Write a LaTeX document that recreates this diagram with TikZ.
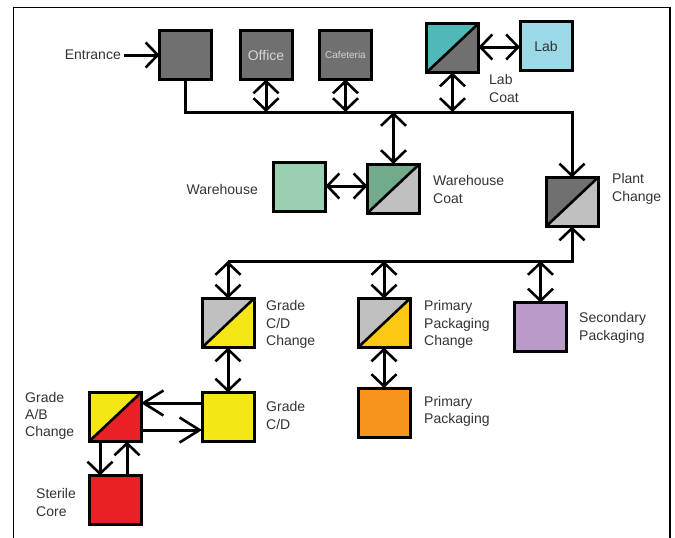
\documentclass[tikz,border=0pt]{standalone}
\usepackage{fontspec}
\setmainfont{Liberation Sans}
\usetikzlibrary{arrows.meta}
\definecolor{dgray}{HTML}{707070}
\definecolor{lgray}{HTML}{C0C0C0}
\definecolor{teal}{HTML}{4FB8B8}
\definecolor{labblue}{HTML}{9CD9E6}
\definecolor{whgreen}{HTML}{9ACFB2}
\definecolor{wcgreen}{HTML}{72AA8C}
\definecolor{gyellow}{HTML}{F5E616}
\definecolor{gold}{HTML}{FCC814}
\definecolor{porange}{HTML}{F7941E}
\definecolor{purple}{HTML}{B99AC9}
\definecolor{gred}{HTML}{EB2027}
\definecolor{txtlight}{HTML}{D4D4D4}
\tikzset{
  box/.style={draw=black, line width=3pt, minimum width=52pt, minimum height=49pt,
    inner sep=0pt, outer sep=0pt},
  splitbox/.style 2 args={box, path picture={
    \fill[#1] (path picture bounding box.south west) -- (path picture bounding box.north west)
      -- (path picture bounding box.north east) -- cycle;
    \fill[#2] (path picture bounding box.south west) -- (path picture bounding box.south east)
      -- (path picture bounding box.north east) -- cycle;
    \draw[line width=2.6pt] (path picture bounding box.south west) -- (path picture bounding box.north east);}},
  lbl/.style={font=\fontsize{14}{17.3}\selectfont, align=left, anchor=west, inner sep=0pt, text=black!80},
  tip/.style={Straight Barb[length=12pt,width=25pt,line width=2.6pt]},
  conn/.style={line width=3pt, -{Straight Barb[length=12pt,width=25pt,line width=2.6pt]}},
  both/.style={line width=3pt, {Straight Barb[length=12pt,width=25pt,line width=2.6pt]}-{Straight Barb[length=12pt,width=25pt,line width=2.6pt]}},
  longtip/.style={line width=3pt, -{Straight Barb[length=20pt,width=25pt,line width=2.6pt]}},
}
\begin{document}
\begin{tikzpicture}[x=1pt,y=-1pt]
\useasboundingbox (0,0) rectangle (675,538);
\fill[white] (0,0) rectangle (675,538);
% outer frame
\draw[line width=1.3pt] (13.5,560) -- (13.5,7.5) -- (670,7.5) -- (670,560);

% top row
\node[box, fill=dgray] (ent) at (185.5,55) {};
\node[box, fill=dgray, text=txtlight, font=\fontsize{14}{17}\selectfont] (off) at (266,55) {Office};
\node[box, fill=dgray, text=txtlight, font=\fontsize{10}{12}\selectfont] (cafe) at (345.5,55) {Cafeteria};
\node[splitbox={teal}{dgray}] (lc) at (452.5,48) {};
\node[box, fill=labblue, text=black!80, font=\fontsize{14}{17}\selectfont] (lab) at (546,46) {Lab};

% warehouse row
\node[box, fill=whgreen] (wh) at (299.5,186.5) {};
\node[splitbox={wcgreen}{lgray}] (wc) at (393.5,188.5) {};
\node[splitbox={dgray}{lgray}] (pc) at (572,202) {};

% packaging row
\node[splitbox={lgray}{gyellow}] (gcdc) at (228,323) {};
\node[splitbox={lgray}{gold}] (ppc) at (384,323) {};
\node[box, fill=purple] (sp) at (540.5,327) {};

% lower rows
\node[box, fill=gyellow] (gcd) at (228,417) {};
\node[box, fill=porange] (pp) at (384,412.5) {};
\node[splitbox={gyellow}{gred}] (gab) at (115,417) {};
\node[box, fill=gred] (sc) at (115,500) {};

% labels
\node[lbl, anchor=east] (entl) at (121,55) {Entrance};
\node[lbl] (lcl) at (489,88.5) {Lab\\Coat};
\node[lbl, anchor=east] (whl) at (258,189) {Warehouse};
\node[lbl] (wcl) at (433,189.5) {Warehouse\\Coat};
\node[lbl] (pcl) at (612,189) {Plant\\Change};
\node[lbl] (gcdcl) at (266,324.5) {Grade\\C/D\\Change};
\node[lbl] (ppcl) at (424,324.5) {Primary\\Packaging\\Change};
\node[lbl] (spl) at (579,328) {Secondary\\Packaging};
\node[lbl] (gcdl) at (266,415.5) {Grade\\C/D};
\node[lbl] (ppl) at (424,411.5) {Primary\\Packaging};
\node[lbl] (gabl) at (25,416) {Grade\\A/B\\Change};
\node[lbl] (scl) at (36,502.5) {Sterile\\Core};

% bus coordinates
\coordinate (busU) at (572,112);
\coordinate (busD) at (572,261);
\coordinate (busDL) at (228,261);

% upper bus: entrance down, across, into plant change
\draw[conn] (ent.south) |- (busU) -- (pc.north);
\draw[conn] (entl.east) ++(3,0) coordinate (entS) (entS) -- (ent.west);
\draw[both] (off.south) -- (off.south |- busU);
\draw[both] (cafe.south) -- (cafe.south |- busU);
\draw[both] (lc.south) -- (lc.south |- busU);
\draw[both] (lc.east |- 0,47) -- (lab.west |- 0,47);
\draw[both] (wc.north |- busU) -- (wc.north);
\draw[both] (wh.east |- 0,186) -- (wc.west |- 0,186);

% lower bus: from grade C/D change across, up into plant change
\draw[conn] (busDL) -- (busD) -- (pc.south);
\draw[both] (busDL) -- (gcdc.north);
\draw[both] (ppc.north |- busD) -- (ppc.north);
\draw[both] (sp.north |- busD) -- (sp.north);
\draw[both] (gcdc.south) -- (gcd.north);
\draw[both] (ppc.south) -- (pp.north);

% grade A/B loop
\draw[longtip] (gcd.west |- 0,403) -- (gab.east |- 0,403);
\draw[longtip] (gab.east |- 0,430) -- (gcd.west |- 0,430);
\draw[conn] (gab.south -| 100,0) -- (sc.north -| 100,0);
\draw[conn] (sc.north -| 127,0) -- (gab.south -| 127,0);
\end{tikzpicture}
\end{document}
